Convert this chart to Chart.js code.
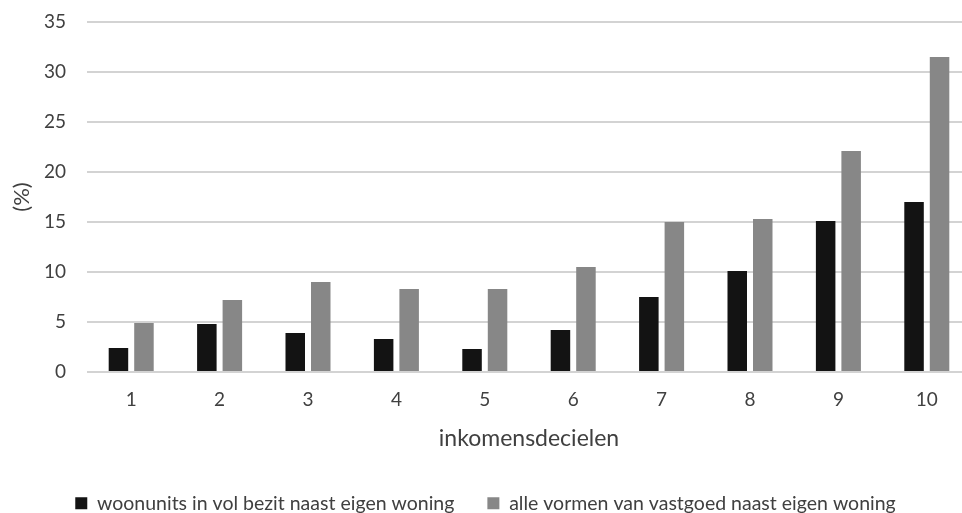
<!DOCTYPE html>
<html>
<head>
<meta charset="utf-8">
<script src="https://cdn.jsdelivr.net/npm/chart.js@4.4.1/dist/chart.umd.min.js"></script>
<style>
  html, body { margin: 0; padding: 0; background: #ffffff; overflow: hidden; width: 962px; height: 513px; }
  #wrap { position: absolute; left: 0; top: 0; width: 975px; height: 523px; }
</style>
</head>
<body>
<div id="wrap"><canvas id="c" width="975" height="523"></canvas></div>
<script>
const categories = ['1', '2', '3', '4', '5', '6', '7', '8', '9', '10'];
const woonunits = [2.4, 4.8, 3.9, 3.3, 2.3, 4.2, 7.5, 10.1, 15.1, 17.0];
const alleVormen = [4.9, 7.2, 9.0, 8.3, 8.3, 10.5, 15.0, 15.3, 22.1, 31.5];
const seriesNames = ['woonunits in vol bezit naast eigen woning', 'alle vormen van vastgoed naast eigen woning'];
const xTitle = 'inkomensdecielen';
const yTitle = '(%)';

const textColor = '#404040';
const fontFamily = 'Lato, "Open Sans", sans-serif';

new Chart(document.getElementById('c'), {
  type: 'bar',
  data: {
    labels: categories,
    datasets: [
      { label: seriesNames[0], data: woonunits, backgroundColor: '#131313', borderWidth: 0,
        categoryPercentage: 0.577, barPercentage: 0.765 },
      { label: seriesNames[1], data: alleVormen, backgroundColor: '#878787', borderWidth: 0,
        categoryPercentage: 0.577, barPercentage: 0.765 }
    ]
  },
  options: {
    responsive: false,
    devicePixelRatio: 1,
    animation: false,
    layout: { padding: { top: 22, right: 4, bottom: 0, left: 0 } },
    plugins: {
      tooltip: { enabled: false },
      legend: {
        position: 'bottom',
        labels: {
          boxWidth: 12, boxHeight: 12, padding: 33,
          color: textColor,
          font: { family: fontFamily, size: 19.5 }
        }
      }
    },
    scales: {
      x: {
        grid: { display: false, drawTicks: false },
        border: { display: false },
        ticks: { color: textColor, padding: 18, font: { family: fontFamily, size: 19, lineHeight: 1 } },
        title: { display: true, text: xTitle, color: textColor,
                 font: { family: fontFamily, size: 23, lineHeight: 1 }, padding: { top: 0, bottom: 10.5 } }
      },
      y: {
        min: 0, max: 35,
        afterFit: (s) => { s.width = 87; },
        grid: { color: '#d3d3d3', lineWidth: 2, drawTicks: true, tickLength: 21, tickColor: 'rgba(0,0,0,0)' },
        border: { display: false },
        ticks: { stepSize: 5, color: textColor, padding: 0, font: { family: fontFamily, size: 19 } },
        title: { display: true, text: yTitle, color: textColor,
                 font: { family: fontFamily, size: 22 }, padding: { top: 9, bottom: 0 } }
      }
    }
  }
});
</script>
</body>
</html>
